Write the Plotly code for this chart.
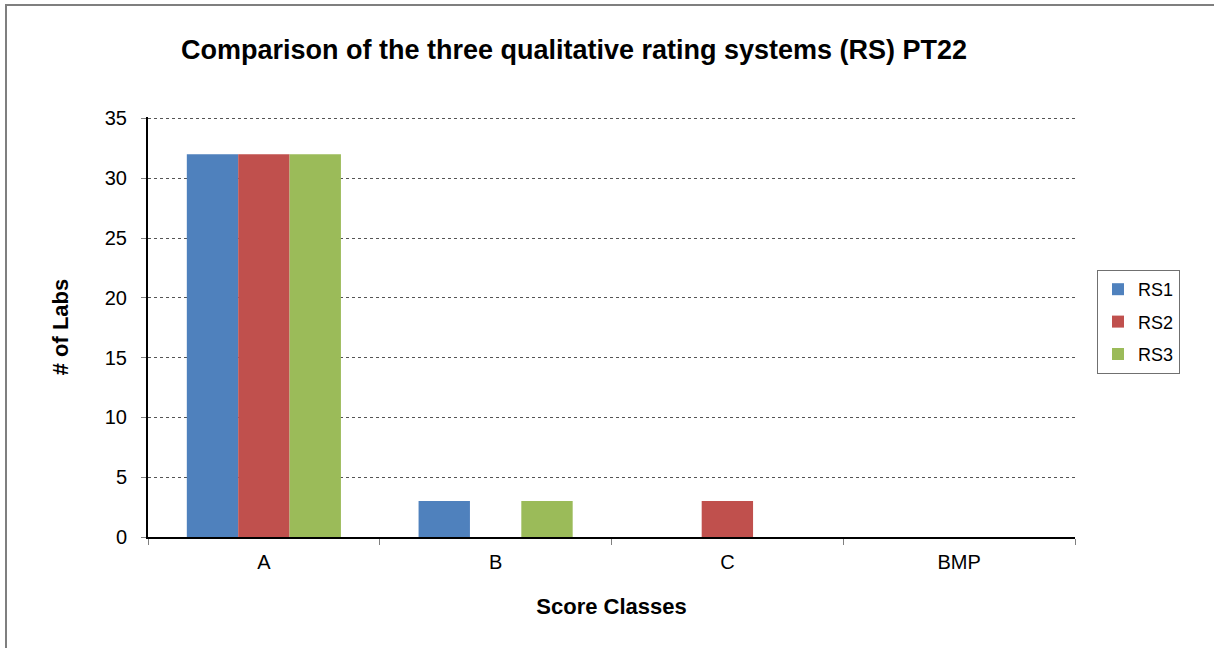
import plotly.graph_objects as go

categories = ["A", "B", "C", "BMP"]
rs1 = [32, 3, 0, 0]
rs2 = [32, 0, 3, 0]
rs3 = [32, 3, 0, 0]
series_names = ["RS1", "RS2", "RS3"]
colors = ["#4F81BD", "#C0504D", "#9BBB59"]
y_ticks = [0, 5, 10, 15, 20, 25, 30, 35]

W, H = 1214, 648
L, R, T, B = 148, 139, 117, 111
pw, ph = W - L - R, H - T - B

fig = go.Figure()
for name, vals, c in zip(series_names, [rs1, rs2, rs3], colors):
    fig.add_trace(go.Bar(
        x=categories, y=vals, name=name, legendgroup=name,
        marker=dict(color=c, line=dict(width=0)),
    ))

font_family = "Liberation Sans, Arial, sans-serif"

def px_to_paper_x(px):
    return (px - L) / pw

def px_to_paper_y(py):
    return (H - B - py) / ph

fig.update_layout(
    width=W, height=H,
    margin=dict(l=L, r=R, t=T, b=B),
    paper_bgcolor="white", plot_bgcolor="white",
    barmode="group", bargap=0.335, bargroupgap=0,
    font=dict(family=font_family, color="black", size=20),
    title=dict(
        text="<b>Comparison of the three qualitative rating systems (RS) PT22</b>",
        x=px_to_paper_x(574), xref="paper", xanchor="center",
        y=1 - 50 / H, yanchor="middle",
        font=dict(size=27, family=font_family, color="black"),
    ),
    xaxis=dict(
        title=dict(text="<b>Score Classes</b>", font=dict(size=22), standoff=27),
        showline=True, linecolor="black", linewidth=2,
        ticks="outside", tickson="boundaries", ticklen=6, tickcolor="#808080", tickwidth=1,
        tickfont=dict(size=20), ticklabelstandoff=6,
        showgrid=False,
    ),
    yaxis=dict(
        title=dict(text="<b># of Labs</b>", font=dict(size=22), standoff=30),
        range=[0, 35.12], tickvals=y_ticks,
        showline=True, linecolor="black", linewidth=2,
        ticks="outside", ticklen=5, tickcolor="#808080", tickwidth=1,
        tickfont=dict(size=20), ticklabelstandoff=10,
        showgrid=True, gridcolor="#555555", griddash="dot", gridwidth=1,
        zeroline=False,
    ),
    legend=dict(
        x=px_to_paper_x(1097), y=px_to_paper_y(270),
        xanchor="left", yanchor="top",
        bordercolor="#707070", borderwidth=1,
        font=dict(size=18),
        itemsizing="constant", traceorder="grouped", tracegroupgap=6,
        itemwidth=30,
    ),
    showlegend=True,
    shapes=[dict(
        type="rect", xref="paper", yref="paper",
        x0=px_to_paper_x(6), x1=px_to_paper_x(W + 20),
        y0=px_to_paper_y(H + 20), y1=px_to_paper_y(5),
        line=dict(color="#7f7f7f", width=2), fillcolor="rgba(0,0,0,0)",
        layer="below",
    )],
)

fig.write_html(
    "out.html",
    config={"displayModeBar": False},
    post_script="document.body.style.margin='0px';document.body.style.overflow='hidden';",
)
